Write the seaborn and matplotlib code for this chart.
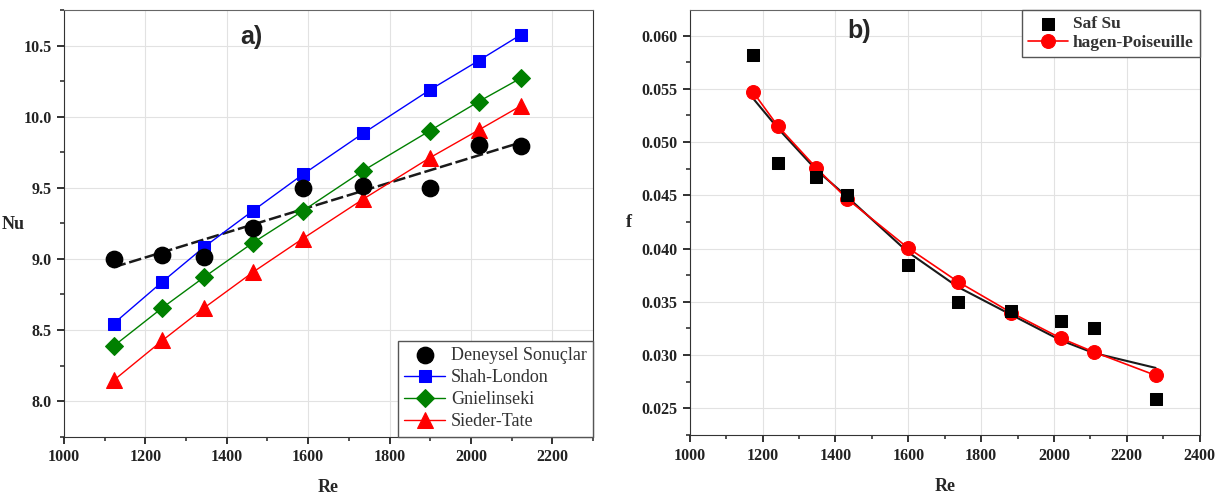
import numpy as np
import pandas as pd
import matplotlib
matplotlib.use("Agg")
import matplotlib.pyplot as plt
import seaborn as sns
from matplotlib.ticker import MultipleLocator, FormatStrFormatter

# ---------------- data ----------------
re_a = [1122, 1242, 1345, 1465, 1587, 1735, 1899, 2019, 2122]
nu_exp = [9.00, 9.025, 9.01, 9.22, 9.50, 9.515, 9.50, 9.80, 9.795]
nu_shah = [8.545, 8.84, 9.085, 9.34, 9.594, 9.883, 10.188, 10.394, 10.575]
nu_gniel = [8.387, 8.657, 8.873, 9.115, 9.338, 9.62, 9.901, 10.106, 10.27]
nu_sieder = [8.146, 8.427, 8.657, 8.908, 9.143, 9.42, 9.711, 9.906, 10.075]

re_b = [1174, 1242, 1347, 1431, 1598, 1736, 1882, 2018, 2109, 2279]
f_exp = [0.0582, 0.0480, 0.04675, 0.0450, 0.0385, 0.0350, 0.0341, 0.0332, 0.0325, 0.0259]
f_hp = [0.0547, 0.0515, 0.0476, 0.0447, 0.0401, 0.0369, 0.0340, 0.0316, 0.0303, 0.0281]
f_fit = [0.0541, 0.0513, 0.0474, 0.0449, 0.0397, 0.0364, 0.0338, 0.0314, 0.0302, 0.0288]

labels_a = ["Deneysel Sonuçlar", "Shah-London", "Gnielinseki", "Sieder-Tate"]
labels_b = ["Saf Su", "hagen-Poiseuille"]

# ---------------- style ----------------
sns.set_style("whitegrid", rc={
    "grid.color": "#e2e2e2",
    "grid.linewidth": 1.0,
    "axes.edgecolor": "#333333",
    "axes.linewidth": 1.6,
    "xtick.bottom": True,
    "ytick.left": True,
    "xtick.direction": "out",
    "ytick.direction": "out",
    "xtick.color": "#222222",
    "ytick.color": "#222222",
})
plt.rcParams["font.family"] = ["Liberation Serif", "DejaVu Serif"]
plt.rcParams["font.weight"] = "bold"

fig = plt.figure(figsize=(12.18, 4.96), dpi=100)
ax1 = fig.add_axes([64 / 1218, (496 - 436.7) / 496, 529 / 1218, 426.7 / 496])
ax2 = fig.add_axes([689.7 / 1218, (496 - 435) / 496, 510 / 1218, 425 / 496])

# ---------------- panel a ----------------
sns.regplot(x=re_a, y=nu_exp, ax=ax1, scatter=False, ci=None, truncate=True,
            line_kws=dict(color="#1a1a1a", lw=1.8, ls=(0, (5, 1.5)), zorder=3))
sns.lineplot(x=re_a, y=nu_shah, ax=ax1, color="#0000ff", lw=1.0, marker="s",
             markersize=9, markeredgecolor="#0000ff", label=labels_a[1], zorder=4)
sns.lineplot(x=re_a, y=nu_gniel, ax=ax1, color="#008000", lw=1.0, marker="D",
             markersize=9, markeredgecolor="#008000", label=labels_a[2], zorder=4)
sns.lineplot(x=re_a, y=nu_sieder, ax=ax1, color="#ff0000", lw=1.0, marker="^",
             markersize=11, markeredgecolor="#ff0000", label=labels_a[3], zorder=4)
sns.scatterplot(x=re_a, y=nu_exp, ax=ax1, color="black", marker="o", s=140,
                edgecolor="black", label=labels_a[0], zorder=5)

ax1.set_xlim(1000, 2300)
ax1.set_ylim(7.75, 10.75)
ax1.xaxis.set_major_locator(MultipleLocator(200))
ax1.xaxis.set_minor_locator(MultipleLocator(100))
ax1.yaxis.set_major_locator(MultipleLocator(0.5))
ax1.yaxis.set_minor_locator(MultipleLocator(0.25))
ax1.yaxis.set_major_formatter(FormatStrFormatter("%.1f"))
ax1.text(1460, 10.56, "a)", fontfamily="Liberation Sans", fontweight="bold",
         fontsize=18, ha="center", va="center")
ax1.set_xlabel("Re", fontsize=13, fontweight="bold", va="center")
ax1.xaxis.set_label_coords(0.5, -0.12)
ax1.set_ylabel("Nu", fontsize=13, fontweight="bold", rotation=0, ha="left", va="center")
ax1.yaxis.set_label_coords(-0.118, 0.497)

h, l = ax1.get_legend_handles_labels()
order = [l.index(x) for x in labels_a]
leg1 = ax1.legend([h[i] for i in order], [l[i] for i in order], loc="lower right",
                  bbox_to_anchor=(1.0, 0.0), borderaxespad=0.0, frameon=True,
                  fancybox=False, framealpha=1, edgecolor="#555555",
                  prop=dict(family="Liberation Serif", weight="normal", size=13),
                  handlelength=2.3, handletextpad=0.3, labelspacing=0.28, borderpad=0.35)
for t in leg1.get_texts():
    t.set_color("#333333")

# ---------------- panel b ----------------
sns.lineplot(x=re_b, y=f_fit, ax=ax2, color="#1a1a1a", lw=1.5, zorder=3)
sns.lineplot(x=re_b, y=f_hp, ax=ax2, color="#ff0000", lw=1.2, marker="o",
             markersize=10, markeredgecolor="#ff0000", label=labels_b[1], zorder=4)
sns.scatterplot(x=re_b, y=f_exp, ax=ax2, color="black", marker="s", s=85,
                edgecolor="black", label=labels_b[0], zorder=5)

ax2.set_xlim(1000, 2400)
ax2.set_ylim(0.0225, 0.0624)
ax2.xaxis.set_major_locator(MultipleLocator(200))
ax2.xaxis.set_minor_locator(MultipleLocator(100))
ax2.yaxis.set_major_locator(MultipleLocator(0.005))
ax2.yaxis.set_minor_locator(MultipleLocator(0.0025))
ax2.yaxis.set_major_formatter(FormatStrFormatter("%.3f"))
ax2.text(1465, 0.0604, "b)", fontfamily="Liberation Sans", fontweight="bold",
         fontsize=18, ha="center", va="center")
ax2.set_xlabel("Re", fontsize=13, fontweight="bold", va="center")
ax2.xaxis.set_label_coords(0.5, -0.122)
ax2.set_ylabel("f", fontsize=13, fontweight="bold", rotation=0, ha="center", va="center")
ax2.yaxis.set_label_coords(-0.119, 0.50)

h, l = ax2.get_legend_handles_labels()
order = [l.index(x) for x in labels_b]
leg2 = ax2.legend([h[i] for i in order], [l[i] for i in order], loc="upper right",
                  bbox_to_anchor=(1.0, 1.0), borderaxespad=0.0, frameon=True,
                  fancybox=False, framealpha=1, edgecolor="#555555",
                  prop=dict(family="Liberation Serif", weight="bold", size=12.5),
                  handlelength=2.3, handletextpad=0.3, labelspacing=0.15, borderpad=0.35)
for t in leg2.get_texts():
    t.set_color("#333333")

for ax in (ax1, ax2):
    ax.tick_params(which="major", length=5, width=1.3, labelsize=11.5, pad=4)
    ax.tick_params(which="minor", length=3, width=1.1)
    ax.grid(True, which="major")
    ax.grid(False, which="minor")
    ax.set_axisbelow(True)
    for lab in ax.get_xticklabels() + ax.get_yticklabels():
        lab.set_fontweight("bold")
    ax.spines["top"].set_color("#666666")

fig.savefig("out.png", dpi=100, facecolor="white")
